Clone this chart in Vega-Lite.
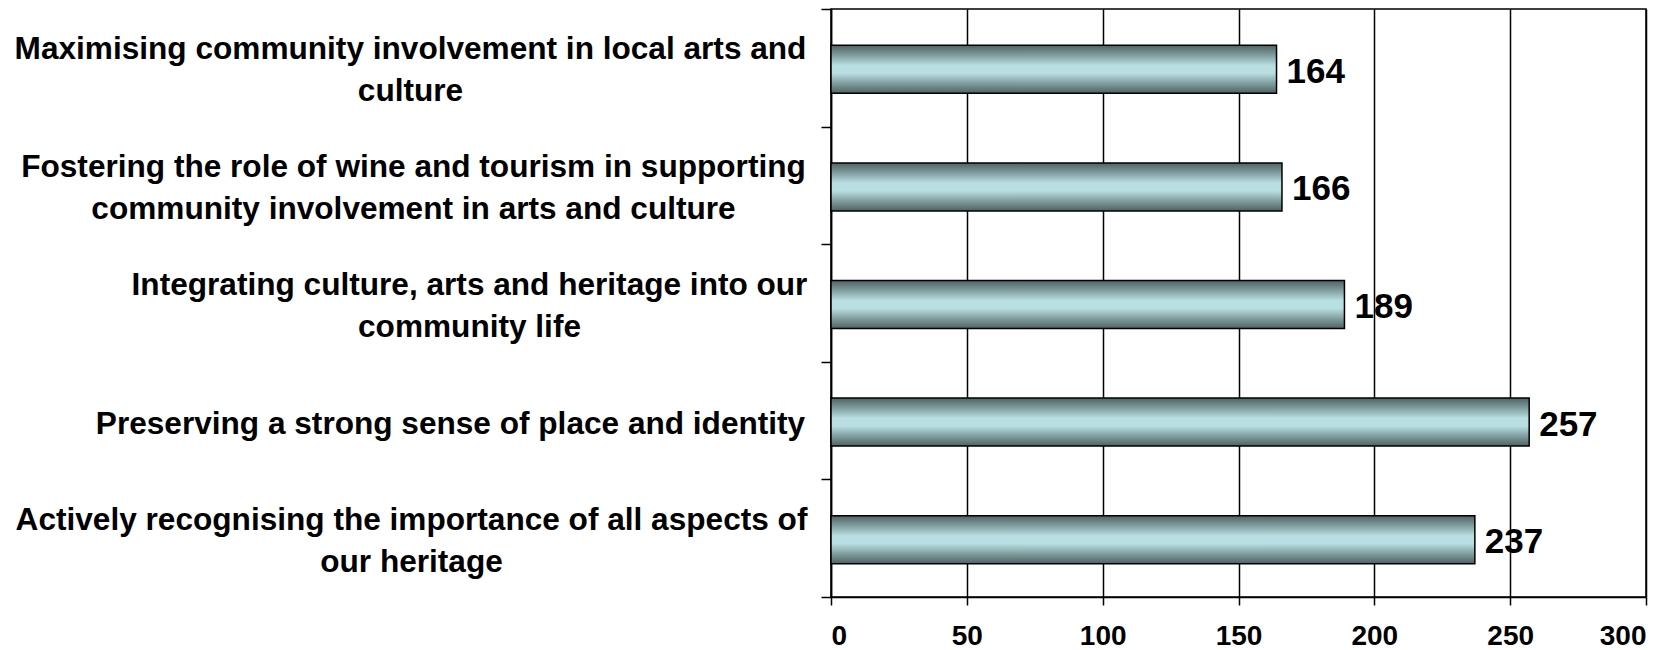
{
  "$schema": "https://vega.github.io/schema/vega-lite/v6.json",
  "autosize": {"type": "none"},
  "padding": {"left": 831, "top": 9, "right": 33, "bottom": 53},
  "width": 815,
  "height": 588,
  "background": "white",
  "config": {
    "view": {"stroke": "black", "strokeWidth": 1.5},
    "font": "Liberation Sans"
  },
  "data": {
    "values": [
      {"item": "Maximising community involvement in local arts and\nculture", "count": 164},
      {"item": "Fostering the role of wine and tourism in supporting\ncommunity involvement in arts and culture", "count": 166},
      {"item": "Integrating culture, arts and heritage into our\ncommunity life", "count": 189},
      {"item": "Preserving a strong sense of place and identity", "count": 257},
      {"item": "Actively recognising the importance of all aspects of\nour heritage", "count": 237}
    ]
  },
  "encoding": {
    "y": {
      "field": "item",
      "type": "nominal",
      "sort": null,
      "scale": {"paddingInner": 0, "paddingOuter": 0},
      "axis": {
        "title": null,
        "labelExpr": "isValid(datum.value) ? split(datum.value, '\\n') : ''",
        "labelFont": "Liberation Sans",
        "labelFontSize": 31.6,
        "labelFontWeight": "bold",
        "labelColor": "black",
        "labelLineHeight": 42,
        "labelAlign": "center",
        "labelPadding": {
          "condition": [
            {"test": "isValid(datum.value) && indexof(datum.value, 'Maximising') === 0", "value": 411},
            {"test": "isValid(datum.value) && indexof(datum.value, 'Fostering') === 0", "value": 408},
            {"test": "isValid(datum.value) && indexof(datum.value, 'Integrating') === 0", "value": 352},
            {"test": "isValid(datum.value) && indexof(datum.value, 'Preserving') === 0", "value": 371},
            {"test": "isValid(datum.value) && indexof(datum.value, 'Actively') === 0", "value": 410}
          ],
          "value": 16
        },
        "labelOffset": {
          "condition": {"test": "isValid(datum.value) && indexof(datum.value, '\\n') >= 0", "value": -18},
          "value": 4
        },
        "labelLimit": 900,
        "tickBand": "extent",
        "tickSize": 10,
        "tickColor": "black",
        "tickWidth": 1.5,
        "domainColor": "black",
        "domainWidth": 1.5,
        "grid": false
      }
    },
    "x": {
      "field": "count",
      "type": "quantitative",
      "scale": {"domain": [0, 300], "nice": false},
      "axis": {
        "title": null,
        "values": [0, 50, 100, 150, 200, 250, 300],
        "grid": true,
        "gridColor": "black",
        "gridWidth": 1.5,
        "gridOpacity": 1,
        "labelFont": "Liberation Sans",
        "labelFontSize": 28,
        "labelFontWeight": "bold",
        "labelColor": "black",
        "labelPadding": 17,
        "tickSize": 8,
        "tickColor": "black",
        "tickWidth": 1.5,
        "domainColor": "black",
        "domainWidth": 1.5
      }
    }
  },
  "layer": [
    {
      "mark": {
        "type": "bar",
        "size": 48,
        "yOffset": 1.5,
        "stroke": "black",
        "strokeWidth": 1.5,
        "color": {
          "gradient": "linear",
          "x1": 0, "y1": 0, "x2": 0, "y2": 1,
          "stops": [
            {"offset": 0, "color": "#4f6263"},
            {"offset": 0.2, "color": "#7f9b9d"},
            {"offset": 0.42, "color": "#b9dfe2"},
            {"offset": 0.58, "color": "#b9dfe2"},
            {"offset": 0.8, "color": "#7f9b9d"},
            {"offset": 1, "color": "#4f6263"}
          ]
        }
      }
    },
    {
      "mark": {
        "type": "text",
        "align": "left",
        "baseline": "middle",
        "dx": 10,
        "dy": 4,
        "font": "Liberation Sans",
        "fontSize": 35,
        "fontWeight": "bold",
        "color": "black"
      },
      "encoding": {"text": {"field": "count", "type": "quantitative"}}
    }
  ]
}
